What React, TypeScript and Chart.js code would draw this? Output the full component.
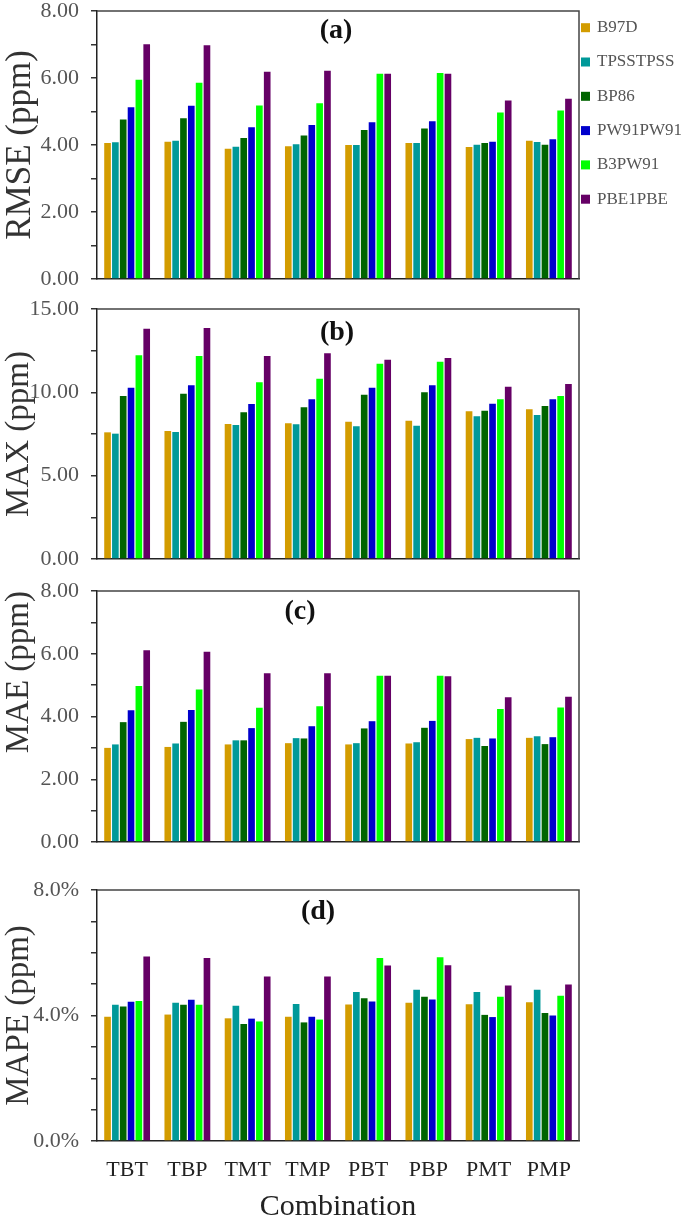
import { useEffect, useRef } from 'react'
import Chart from 'chart.js/auto'

const combinations = ['TBT', 'TBP', 'TMT', 'TMP', 'PBT', 'PBP', 'PMT', 'PMP']
const methods = ['B97D', 'TPSSTPSS', 'BP86', 'PW91PW91', 'B3PW91', 'PBE1PBE']
const methodColors = ['#D39C00', '#009999', '#006400', '#0000CC', '#00FF00', '#660066']

// rows follow `methods`, columns follow `combinations`
const rmse = [
  [4.06, 4.1, 3.89, 3.96, 4.0, 4.06, 3.94, 4.13],
  [4.08, 4.13, 3.95, 4.02, 4.0, 4.06, 4.01, 4.09],
  [4.76, 4.8, 4.21, 4.28, 4.45, 4.49, 4.06, 4.01],
  [5.13, 5.17, 4.53, 4.6, 4.68, 4.71, 4.1, 4.17],
  [5.95, 5.86, 5.18, 5.25, 6.13, 6.15, 4.97, 5.03],
  [7.01, 6.98, 6.19, 6.22, 6.13, 6.13, 5.33, 5.38],
]
const maxErr = [
  [7.6, 7.68, 8.1, 8.14, 8.24, 8.3, 8.86, 8.98],
  [7.52, 7.62, 8.04, 8.08, 7.96, 8.0, 8.56, 8.64],
  [9.78, 9.92, 8.8, 9.1, 9.86, 10.0, 8.9, 9.18],
  [10.28, 10.42, 9.3, 9.58, 10.28, 10.42, 9.32, 9.58],
  [12.22, 12.18, 10.6, 10.82, 11.72, 11.84, 9.58, 9.78],
  [13.82, 13.86, 12.18, 12.34, 11.96, 12.06, 10.34, 10.5],
]
const mae = [
  [3.0, 3.03, 3.11, 3.15, 3.11, 3.14, 3.28, 3.32],
  [3.11, 3.14, 3.24, 3.31, 3.15, 3.18, 3.32, 3.37],
  [3.82, 3.83, 3.24, 3.3, 3.62, 3.64, 3.06, 3.12],
  [4.2, 4.21, 3.63, 3.69, 3.85, 3.86, 3.3, 3.34],
  [4.97, 4.86, 4.28, 4.33, 5.3, 5.3, 4.24, 4.29],
  [6.11, 6.06, 5.38, 5.38, 5.3, 5.28, 4.61, 4.63],
]
// percent
const mape = [
  [3.96, 4.03, 3.91, 3.96, 4.35, 4.41, 4.36, 4.42],
  [4.34, 4.41, 4.31, 4.37, 4.75, 4.82, 4.75, 4.82],
  [4.29, 4.34, 3.73, 3.78, 4.55, 4.6, 4.02, 4.08],
  [4.44, 4.5, 3.9, 3.96, 4.45, 4.51, 3.95, 4.0],
  [4.46, 4.34, 3.81, 3.87, 5.83, 5.86, 4.6, 4.63],
  [5.88, 5.83, 5.24, 5.24, 5.59, 5.6, 4.96, 4.99],
]

const SERIF = "'Liberation Serif', 'Times New Roman', serif"
const WIDTH = 685
const PAD_TOP = 30
const PAD_BOTTOM = 30
const AREA_LEFT = 97
const AREA_RIGHT = 579
const X_AXIS_H = 88

// frame, panel tag and (for the first panel) the legend
const decorPlugin = {
  id: 'decor',
  afterDraw(chart: any, _args: any, opts: any) {
    const { ctx, chartArea } = chart
    ctx.save()
    ctx.strokeStyle = '#444'
    ctx.lineWidth = 1.5
    ctx.beginPath()
    ctx.moveTo(chartArea.left, chartArea.top)
    ctx.lineTo(chartArea.right, chartArea.top)
    ctx.lineTo(chartArea.right, chartArea.bottom)
    ctx.stroke()

    ctx.fillStyle = '#111'
    ctx.font = `bold 28px ${SERIF}`
    ctx.textAlign = 'center'
    ctx.textBaseline = 'middle'
    ctx.fillText(opts.tag, opts.tagX, opts.tagY - opts.canvasTop)

    if (opts.legend) {
      ctx.font = `17px ${SERIF}`
      ctx.textAlign = 'left'
      chart.data.datasets.forEach((ds: any, i: number) => {
        const y = 27.7 + i * 34.3 - opts.canvasTop
        ctx.fillStyle = ds.backgroundColor
        ctx.fillRect(581, y - 4.5, 9, 9)
        ctx.fillStyle = '#555'
        ctx.fillText(ds.label, 597, y)
      })
    }
    ctx.restore()
  },
}

type PanelProps = {
  values: number[][]
  top: number
  bottom: number
  yMax: number
  step: number
  labelEvery: number
  format: (v: number) => string
  title: string
  titleSize: number
  titleAlign?: 'center' | 'end'
  tag: string
  tagX: number
  tagY: number
  legend?: boolean
  xAxis?: boolean
}

function Panel(p: PanelProps) {
  const canvasRef = useRef<HTMLCanvasElement | null>(null)
  const chartRef = useRef<Chart | null>(null)

  const canvasTop = p.top - PAD_TOP
  const height = p.bottom - p.top + PAD_TOP + (p.xAxis ? X_AXIS_H : PAD_BOTTOM)

  useEffect(() => {
    if (!canvasRef.current) return

    chartRef.current = new Chart(canvasRef.current, {
      type: 'bar',
      data: {
        labels: combinations,
        datasets: methods.map((m, i) => ({
          label: m,
          data: p.values[i],
          backgroundColor: methodColors[i],
          borderWidth: 0,
          barPercentage: 0.85,
          categoryPercentage: 0.78,
        })),
      },
      plugins: [decorPlugin],
      options: {
        animation: false,
        responsive: true,
        maintainAspectRatio: false,
        events: [],
        layout: {
          padding: {
            left: 0,
            top: PAD_TOP,
            right: WIDTH - AREA_RIGHT,
            bottom: p.xAxis ? 0 : PAD_BOTTOM,
          },
        },
        plugins: {
          legend: { display: false },
          tooltip: { enabled: false },
          decor: {
            tag: p.tag,
            tagX: p.tagX,
            tagY: p.tagY,
            canvasTop,
            legend: !!p.legend,
          },
        } as any,
        scales: {
          x: {
            type: 'category',
            grid: { display: false, drawTicks: false },
            border: { display: true, color: '#222', width: 1.5 },
            ticks: {
              display: !!p.xAxis,
              color: '#222',
              padding: 16,
              font: { family: SERIF, size: 22 },
            },
            title: {
              display: !!p.xAxis,
              text: 'Combination',
              color: '#222',
              font: { family: SERIF, size: 30 },
              padding: { top: 4, bottom: 4 },
            },
            afterFit: (scale: any) => {
              scale.height = p.xAxis ? X_AXIS_H : 0
            },
          },
          y: {
            min: 0,
            max: p.yMax,
            grid: {
              drawOnChartArea: false,
              drawTicks: true,
              tickLength: 6,
              color: '#333',
              lineWidth: 1.5,
            },
            border: { display: true, color: '#222', width: 1.5 },
            ticks: {
              stepSize: p.step,
              autoSkip: false,
              padding: 12,
              color: '#555',
              font: { family: SERIF, size: 22 },
              callback: (v: any) =>
                Math.round(Number(v) / p.step) % p.labelEvery === 0 ? p.format(Number(v)) : '',
            },
            title: {
              display: true,
              text: p.title,
              align: p.titleAlign ?? 'center',
              color: '#333',
              font: { family: SERIF, size: p.titleSize },
              padding: { top: 0, bottom: 0 },
            },
            afterFit: (scale: any) => {
              scale.width = AREA_LEFT
            },
          },
        },
      },
    })

    return () => {
      if (chartRef.current) {
        chartRef.current.destroy()
        chartRef.current = null
      }
    }
  }, [])

  return (
    <div style={{ position: 'absolute', left: 0, top: canvasTop, width: WIDTH, height }}>
      <canvas ref={canvasRef} style={{ display: 'block' }} />
    </div>
  )
}

const fixed2 = (v: number) => v.toFixed(2)
const percent1 = (v: number) => `${v.toFixed(1)}%`

export default function App() {
  return (
    <div
      style={{
        position: 'fixed',
        left: 0,
        top: 0,
        width: WIDTH,
        height: 1221,
        background: '#fff',
        overflow: 'hidden',
      }}
    >
      <Panel values={rmse} top={11} bottom={279} yMax={8} step={1} labelEvery={2} format={fixed2}
        title="RMSE (ppm)" titleSize={35} tag="(a)" tagX={336} tagY={31} legend />
      <Panel values={maxErr} top={309} bottom={559} yMax={15} step={2.5} labelEvery={2} format={fixed2}
        title="MAX (ppm)" titleSize={33} tag="(b)" tagX={337} tagY={333} />
      <Panel values={mae} top={591} bottom={842} yMax={8} step={1} labelEvery={2} format={fixed2}
        title="MAE (ppm)" titleSize={33} titleAlign="end" tag="(c)" tagX={300} tagY={612} />
      <Panel values={mape} top={890} bottom={1141} yMax={8} step={1} labelEvery={4} format={percent1}
        title="MAPE (ppm)" titleSize={33} tag="(d)" tagX={318} tagY={912} xAxis />
    </div>
  )
}
